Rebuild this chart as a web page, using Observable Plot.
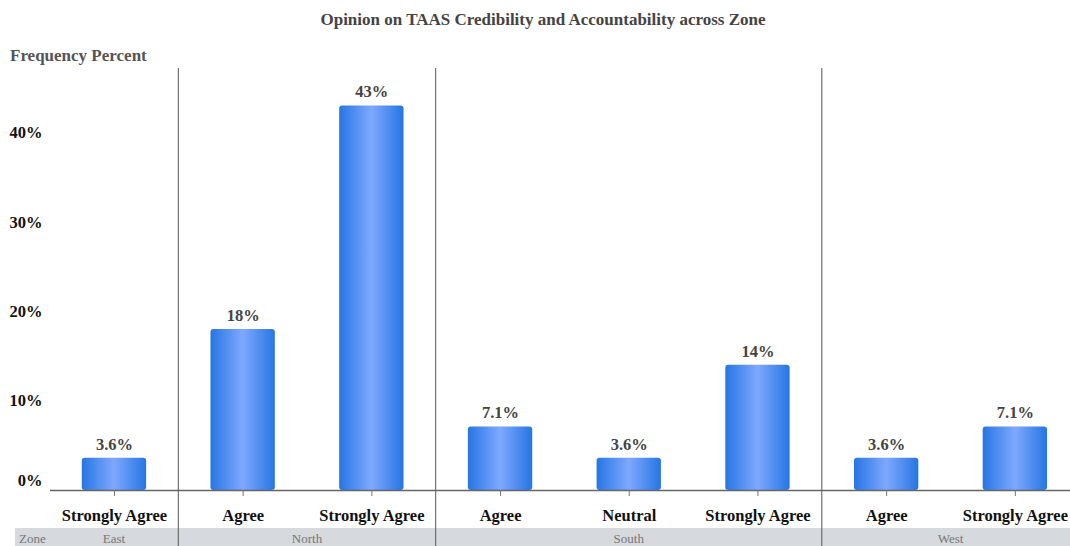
<!DOCTYPE html>
<html>
<head>
<meta charset="utf-8">
<script src="https://cdn.jsdelivr.net/npm/d3@7"></script>
<script src="https://cdn.jsdelivr.net/npm/@observablehq/plot@0.6"></script>
<style>
  html, body { margin: 0; padding: 0; background: #fff; }
  #wrap { position: relative; width: 1070px; height: 546px; overflow: hidden; font-family: "Liberation Serif", "Times New Roman", serif; }
  #title { position: absolute; top: 10px; left: 8px; width: 1070px; text-align: center; font-weight: bold; font-size: 17px; color: #444; }
  #ylabel { position: absolute; top: 46px; left: 10px; font-weight: bold; font-size: 17px; color: #555; }
  #chart { position: absolute; top: 0; left: 0; }
</style>
</head>
<body>
<div id="wrap">
  <div id="chart"></div>
  <div id="title">Opinion on TAAS Credibility and Accountability across Zone</div>
  <div id="ylabel">Frequency Percent</div>
</div>
<script>
// Survey answers per zone, in display order
const zones = ["East", "North", "North", "South", "South", "South", "West", "West"];
const answers = ["Strongly Agree", "Agree", "Strongly Agree", "Agree", "Neutral", "Strongly Agree", "Agree", "Strongly Agree"];
const percents = [3.6, 18, 43, 7.1, 3.6, 14, 3.6, 7.1];
const yTicks = [0, 10, 20, 30, 40];

const rows = zones.map((zone, i) => ({
  key: zone + " · " + answers[i],
  zone,
  answer: answers[i],
  value: percents[i]
}));
const keys = rows.map(d => d.key);
const answerOf = new Map(rows.map(d => [d.key, d.answer]));

const fmt = v => (v >= 10 ? Math.round(v) : v) + "%";
const serif = "'Liberation Serif', 'Times New Roman', serif";

// Horizontal blue gradient used to fill the bars
function barGradient() {
  const defs = d3.create("svg:defs");
  const lg = defs.append("linearGradient")
    .attr("id", "barFill").attr("x1", "0").attr("x2", "1").attr("y1", "0").attr("y2", "0");
  lg.append("stop").attr("offset", "0%").attr("stop-color", "#2676e3");
  lg.append("stop").attr("offset", "50%").attr("stop-color", "#7ea8ff");
  lg.append("stop").attr("offset", "100%").attr("stop-color", "#2676e3");
  return defs.node();
}

// Zone separators and the grey zone strip under the category labels
function zoneStrip(index, scales, values, dims) {
  const x = scales.x;
  const bw = typeof x.bandwidth === "function" ? x.bandwidth() : x.bandwidth;
  const step = x(keys[1]) - x(keys[0]);
  const groups = d3.groups(rows, d => d.zone).map(([zone, rs]) => ({
    zone,
    x0: x(rs[0].key) + bw / 2 - step / 2,
    x1: x(rs[rs.length - 1].key) + bw / 2 + step / 2
  }));
  const g = d3.create("svg:g").attr("font-family", serif);
  const stripTop = dims.height - 18;
  g.append("rect")
    .attr("x", 15).attr("y", stripTop)
    .attr("width", dims.width - 15).attr("height", 18)
    .attr("fill", "#d6d9dd");
  g.append("text")
    .attr("x", 19).attr("y", stripTop + 10).attr("dy", "0.35em")
    .attr("text-anchor", "start")
    .attr("font-size", 13).attr("fill", "#777")
    .text("Zone");
  g.selectAll("text.zone").data(groups).join("text")
    .attr("class", "zone")
    .attr("x", d => (d.x0 + d.x1) / 2).attr("y", stripTop + 10).attr("dy", "0.35em")
    .attr("text-anchor", "middle").attr("font-size", 13).attr("fill", "#777")
    .text(d => d.zone);
  g.selectAll("line").data(groups.slice(1)).join("line")
    .attr("x1", d => d.x0).attr("x2", d => d.x0)
    .attr("y1", dims.marginTop).attr("y2", dims.height)
    .attr("stroke", "#555").attr("stroke-width", 1);
  return g.node();
}

const chart = Plot.plot({
  width: 1070,
  height: 546,
  marginTop: 68,
  marginBottom: 56,
  marginLeft: 50,
  marginRight: 0,
  style: { fontFamily: serif, background: "transparent" },
  x: { domain: keys, range: [49.6, 1079.2], paddingInner: 0.5, paddingOuter: 0.25, round: false, axis: null, label: null },
  y: { domain: [0, 47.2], axis: null, label: null },
  marks: [
    barGradient,
    zoneStrip,
    Plot.barY(rows, { x: "key", y: "value", fill: "url(#barFill)", rx: 3 }),
    Plot.ruleY([0], { stroke: "#666", strokeWidth: 1.6 }),
    Plot.axisX({
      label: null,
      tickFormat: k => answerOf.get(k),
      tickSize: 6, tickPadding: 13,
      stroke: "#777", fill: "#111",
      fontSize: 16.5, fontWeight: "bold"
    }),
    Plot.axisY({
      label: null,
      ticks: yTicks.filter(t => t > 0),
      tickFormat: d => d + "%",
      tickSize: 0, tickPadding: 8,
      fill: "#111", fontSize: 16.5, fontWeight: "bold"
    }),
    Plot.axisY({
      label: null,
      ticks: yTicks.filter(t => t === 0),
      tickFormat: d => d + "%",
      tickSize: 0, tickPadding: 8, dy: -10,
      fill: "#111", fontSize: 16.5, fontWeight: "bold"
    }),
    Plot.text(rows, {
      x: "key", y: "value", text: d => fmt(d.value),
      dy: -14, fill: "#444", fontSize: 16.5, fontWeight: "bold"
    })
  ]
});

document.getElementById("chart").appendChild(chart);
</script>
</body>
</html>
